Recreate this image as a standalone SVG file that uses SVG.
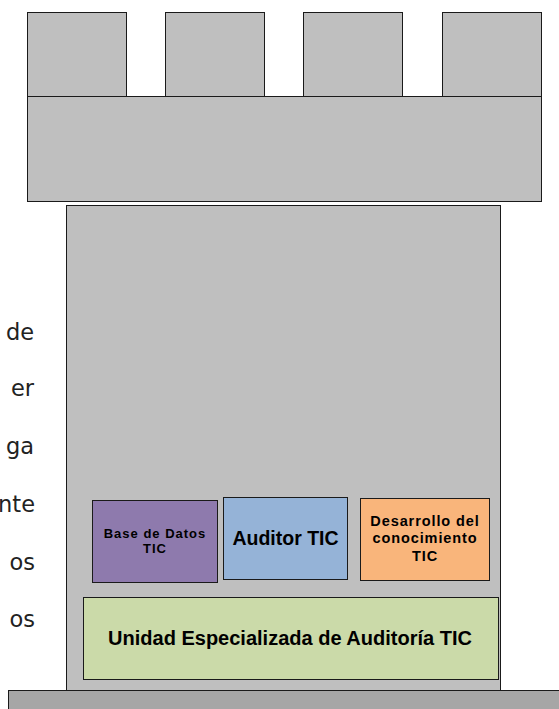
<svg xmlns="http://www.w3.org/2000/svg" width="559" height="709" viewBox="0 0 559 709">
  <style>
    .stone { fill: #bfbfbf; stroke: #1a1a1a; stroke-width: 1; }
    .base { fill: #a6a6a6; stroke: #1a1a1a; stroke-width: 1; }
    .box { stroke: #1a1a1a; stroke-width: 1; }
    .lbl { font-family: "Liberation Sans", Arial, sans-serif; font-weight: bold; fill: #000; text-anchor: middle; }
    .side { font-family: "DejaVu Sans", Verdana, sans-serif; font-size: 22.5px; fill: #222; text-anchor: end; }
  </style>

  <!-- paragraph text clipped at the left edge -->
  <g id="side-text">
    <text class="side" x="34" y="340">de</text>
    <text class="side" x="34" y="396">er</text>
    <text class="side" x="34" y="454">ga</text>
    <text class="side" x="35" y="512">nte</text>
    <text class="side" x="35" y="570">os</text>
    <text class="side" x="35" y="627">os</text>
  </g>

  <!-- battlements -->
  <g id="merlon-1"><rect class="stone" x="27.5" y="12.5" width="99" height="84"/></g>
  <g id="merlon-2"><rect class="stone" x="165.5" y="12.5" width="99" height="84"/></g>
  <g id="merlon-3"><rect class="stone" x="303.5" y="12.5" width="99" height="84"/></g>
  <g id="merlon-4"><rect class="stone" x="442.5" y="12.5" width="99" height="84"/></g>
  <g id="parapet"><rect class="stone" x="27.5" y="96.5" width="514" height="105"/></g>

  <!-- tower body -->
  <g id="tower"><rect class="stone" x="66.5" y="205.5" width="434" height="490"/></g>

  <!-- ground -->
  <g id="ground"><rect class="base" x="8.5" y="690.5" width="560" height="30"/></g>

  <g id="base-datos">
    <rect class="box" x="92.5" y="500.5" width="125" height="82" fill="#8e7aad"/>
    <text class="lbl" font-size="13" letter-spacing="1" x="155" y="538">Base de Datos</text>
    <text class="lbl" font-size="13" letter-spacing="1" x="155" y="553">TIC</text>
  </g>

  <g id="auditor">
    <rect class="box" x="223.5" y="497.5" width="124" height="82" fill="#95b3d7"/>
    <text class="lbl" font-size="19.5" x="285.5" y="545">Auditor TIC</text>
  </g>

  <g id="desarrollo">
    <rect class="box" x="360.5" y="498.5" width="129" height="82" fill="#f9b57b"/>
    <text class="lbl" font-size="14.5" letter-spacing="0.9" x="425" y="526">Desarrollo del</text>
    <text class="lbl" font-size="14.5" letter-spacing="0.9" x="425" y="543">conocimiento</text>
    <text class="lbl" font-size="14.5" letter-spacing="0.9" x="425" y="561">TIC</text>
  </g>

  <g id="unidad">
    <rect class="box" x="83.5" y="597.5" width="415" height="82" fill="#cbdaa9"/>
    <text class="lbl" font-size="20" x="290" y="645">Unidad Especializada de Auditoría TIC</text>
  </g>
</svg>
